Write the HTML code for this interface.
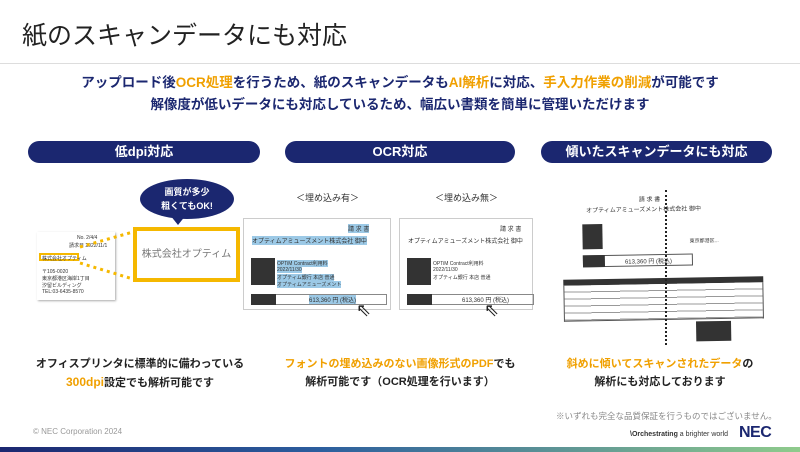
<!DOCTYPE html>
<html><head><meta charset="utf-8"><style>
*{margin:0;padding:0;box-sizing:border-box}
body{width:800px;height:452px;background:#fff;position:relative;overflow:hidden;font-family:"Liberation Sans","Noto Sans CJK JP",sans-serif;color:#222}
.a{position:absolute}
.pill{position:absolute;top:141px;height:22px;background:#1b2770;border-radius:11px;color:#fff;font-weight:bold;font-size:13px;text-align:center;line-height:22px}
.o{color:#f0a000}
.doc{position:absolute;background:#fff;border:1px solid #ccc}
.t{position:absolute;font-size:5px;color:#333;white-space:nowrap}
.dk{position:absolute;background:#333}
</style></head><body>
<div class="a" style="left:22px;top:16px;font-size:25px;color:#222">紙のスキャンデータにも対応</div>
<div class="a" style="left:0;top:63px;width:800px;height:1px;background:#ddd"></div>
<div class="a" style="left:0;top:71px;width:800px;text-align:center;font-size:13.5px;font-weight:bold;color:#1b2770">アップロード後<span class="o">OCR処理</span>を行うため、紙のスキャンデータも<span class="o">AI解析</span>に対応、<span class="o">手入力作業の削減</span>が可能です</div>
<div class="a" style="left:0;top:93px;width:800px;text-align:center;font-size:13.5px;font-weight:bold;color:#1b2770">解像度が低いデータにも対応しているため、幅広い書類を簡単に管理いただけます</div>

<div class="pill" style="left:28px;width:232px">低dpi対応</div>
<div class="pill" style="left:285px;width:230px">OCR対応</div>
<div class="pill" style="left:541px;width:231px">傾いたスキャンデータにも対応</div>

<!-- panel 1 -->
<div class="doc" style="left:37px;top:232px;width:78px;height:68px;box-shadow:1px 1px 2px #aaa;border:none">
<div class="t" style="left:40px;top:3px">No. 2/4/4</div>
<div class="t" style="left:32px;top:10px">請求日 2022/11/1</div>
<div class="t" style="left:5px;top:36px">〒105-0020</div>
<div class="t" style="left:5px;top:43px">東京都港区海岸1丁目</div>
<div class="t" style="left:5px;top:50px">汐留ビルディング</div>
<div class="t" style="left:5px;top:57px">TEL:03-6435-8570</div>
</div>
<div class="a" style="left:39px;top:253px;width:40px;height:8px;border:2px solid #f5b800"></div>
<div class="t" style="left:42px;top:255px">株式会社オプティム</div>
<svg class="a" style="left:0;top:0" width="800" height="452"><line x1="80" y1="247" x2="133" y2="232" stroke="#f5b800" stroke-width="3" stroke-dasharray="3,4"/><line x1="80" y1="263" x2="133" y2="279" stroke="#f5b800" stroke-width="3" stroke-dasharray="3,4"/></svg>
<div class="a" style="left:133px;top:227px;width:107px;height:55px;border:4px solid #f5b800;background:#fff;font-size:10px;color:#777;text-align:center;line-height:47px">株式会社オプティム</div>
<div class="a" style="left:140px;top:179px;width:94px;height:40px;border-radius:50%;background:#1b2770;color:#fff;font-size:9px;font-weight:bold;text-align:center;line-height:14px;padding-top:6px">画質が多少<br>粗くてもOK!</div>
<div class="a" style="left:170px;top:215px;width:0;height:0;border-left:8px solid transparent;border-right:8px solid transparent;border-top:10px solid #1b2770"></div>
<div class="a" style="left:0;top:355px;width:280px;text-align:center;font-size:11px;font-weight:bold;line-height:18px">オフィスプリンタに標準的に備わっている<br><span class="o" style="font-size:12px">300dpi</span>設定でも解析可能です</div>

<!-- panel 2 -->
<div class="a" style="left:296px;top:191px;font-size:9px;color:#333">＜埋め込み有＞</div>
<div class="a" style="left:435px;top:191px;font-size:9px;color:#333">＜埋め込み無＞</div>
<div class="doc" style="left:243px;top:218px;width:148px;height:92px">
<div class="t" style="left:104px;top:5px;background:#9cc9e6;font-size:6px">請 求 書</div>
<div class="t" style="left:8px;top:17px;background:#9cc9e6;font-size:6px">オプティムアミューズメント株式会社 御中</div>
<div class="dk" style="left:7px;top:39px;width:24px;height:27px"></div>
<div class="t" style="left:33px;top:41px;background:#9cc9e6">OPTiM Contract利用料</div>
<div class="t" style="left:33px;top:48px;background:#9cc9e6">2022/11/30</div>
<div class="t" style="left:33px;top:55px;background:#9cc9e6">オプティム銀行 本店 普通</div>
<div class="t" style="left:33px;top:62px;background:#9cc9e6">オプティムアミューズメント</div>
<div class="a" style="left:7px;top:75px;width:136px;height:11px;border:1px solid #888"></div>
<div class="dk" style="left:7px;top:75px;width:25px;height:11px"></div>
<div class="t" style="left:65px;top:76px;font-size:6px;background:#9cc9e6">613,360 円 (税込)</div>
</div>
<div class="doc" style="left:399px;top:218px;width:134px;height:92px">
<div class="t" style="left:100px;top:5px;font-size:6px">請 求 書</div>
<div class="t" style="left:8px;top:17px;font-size:6px">オプティムアミューズメント株式会社 御中</div>
<div class="dk" style="left:7px;top:39px;width:24px;height:27px"></div>
<div class="t" style="left:33px;top:41px">OPTiM Contract利用料</div>
<div class="t" style="left:33px;top:48px">2022/11/30</div>
<div class="t" style="left:33px;top:55px">オプティム銀行 本店 普通</div>
<div class="a" style="left:7px;top:75px;width:127px;height:11px;border:1px solid #888"></div>
<div class="dk" style="left:7px;top:75px;width:25px;height:11px"></div>
<div class="t" style="left:62px;top:76px;font-size:6px">613,360 円 (税込)</div>
</div>
<div class="a" style="left:356px;top:300px;font-size:18px">⇖</div>
<div class="a" style="left:484px;top:300px;font-size:18px">⇖</div>
<div class="a" style="left:270px;top:355px;width:260px;text-align:center;font-size:11px;font-weight:bold;line-height:18px"><span class="o">フォントの埋め込みのない画像形式のPDF</span>でも<br>解析可能です（OCR処理を行います）</div>

<!-- panel 3 -->
<div class="a" style="left:555px;top:190px;width:215px;height:150px;background:#fff;transform:rotate(-1deg)">
<div class="t" style="left:32px;top:14px;font-size:6px">オプティムアミューズメント株式会社 御中</div>
<div class="t" style="left:85px;top:4px;font-size:6px">請 求 書</div>
<div class="dk" style="left:28px;top:33px;width:20px;height:25px"></div>
<div class="a" style="left:28px;top:64px;width:110px;height:12px;border:1px solid #555"></div>
<div class="dk" style="left:28px;top:64px;width:22px;height:12px"></div>
<div class="t" style="left:70px;top:66px;font-size:6px">613,360 円 (税込)</div>
<div class="t" style="left:135px;top:48px">東京都港区...</div>
<div class="dk" style="left:8px;top:88px;width:200px;height:6px"></div>
<div class="a" style="left:8px;top:94px;width:200px;height:36px;border:1px solid #555;border-top:none;background:repeating-linear-gradient(#fff 0 6px,#999 6px 7px)"></div>
<div class="dk" style="left:140px;top:132px;width:35px;height:20px"></div>
</div>
<div class="a" style="left:665px;top:190px;height:155px;border-left:2px dotted #222"></div>
<div class="a" style="left:540px;top:355px;width:240px;text-align:center;font-size:11px;font-weight:bold;line-height:18px"><span class="o">斜めに傾いてスキャンされたデータ</span>の<br>解析にも対応しております</div>

<div class="a" style="left:556px;top:410px;font-size:8.5px;color:#888;white-space:nowrap">※いずれも完全な品質保証を行うものではございません。</div>
<div class="a" style="left:33px;top:427px;font-size:8px;color:#999">© NEC Corporation 2024</div>
<div class="a" style="left:630px;top:431px;font-size:7px;color:#333;white-space:nowrap"><b>\Orchestrating</b> a brighter world</div>
<div class="a" style="left:739px;top:424px;font-size:16px;font-weight:900;color:#1b2770;letter-spacing:-0.5px">NEC</div>
<div class="a" style="left:0;top:447px;width:800px;height:5px;background:linear-gradient(90deg,#1b2770,#2c5e9e 40%,#8fcb8c)"></div>
</body></html>
